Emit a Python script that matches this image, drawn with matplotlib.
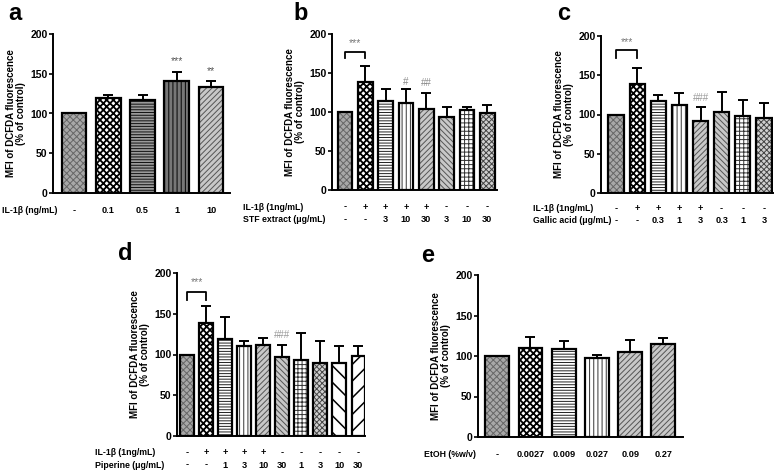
import matplotlib
matplotlib.use("Agg")
import matplotlib.pyplot as plt
from matplotlib.transforms import blended_transform_factory

plt.rcParams['font.family'] = ['Liberation Sans', 'DejaVu Sans']
plt.rcParams['hatch.linewidth'] = 0.7

# --- datos ---
a_labels = ['-', '0.1', '0.5', '1', '10']
a_vals = [100, 120, 117, 141, 133]
a_err = [0, 3, 6, 11, 8]

b_il = ['-', '+', '+', '+', '+', '-', '-', '-']
b_dose = ['-', '-', '3', '10', '30', '3', '10', '30']
b_vals = [100, 139, 114, 112, 104, 93, 103, 99]
b_err = [0, 20, 15, 17, 20, 14, 4, 10]

c_il = ['-', '+', '+', '+', '+', '-', '-', '-']
c_dose = ['-', '-', '0.3', '1', '3', '0.3', '1', '3']
c_vals = [100, 139, 117, 112, 92, 103, 98, 95]
c_err = [0, 20, 8, 16, 18, 26, 20, 20]

d_il = ['-', '+', '+', '+', '+', '-', '-', '-', '-', '-']
d_dose = ['-', '-', '1', '3', '10', '30', '1', '3', '10', '30']
d_vals = [100, 139, 119, 110, 112, 97, 93, 90, 89, 98]
d_err = [0, 20, 27, 7, 8, 15, 33, 26, 22, 13]

e_labels = ['-', '0.0027', '0.009', '0.027', '0.09', '0.27']
e_vals = [100, 110, 109, 98, 105, 115]
e_err = [0, 13, 10, 3, 15, 7]

# estilos de relleno: (color de fondo, trama, color de trama, grosor de trama)
ESTILOS = {
    'ctrl': ('#a8a8a8', 'xxxxx', '#666666', 0.7),
    'check': ('white', 'xxxxx', 'black', 1.3),
    'hline': ('white', '------', '#222222', 0.7),
    'hline_d': ('#9a9a9a', '------', '#111111', 0.7),
    'vline': ('white', '||||', '#333333', 0.7),
    'vline_d': ('#777777', '||||', '#111111', 0.8),
    'diag': ('#c8c8c8', '//////', '#555555', 0.7),
    'bdiag': ('#c8c8c8', '\\\\\\\\\\\\', '#555555', 0.7),
    'grid': ('white', '++++', '#333333', 0.7),
    'finex': ('#d0d0d0', 'xxxxxx', '#444444', 0.7),
    'sbdiag': ('white', '\\\\', 'black', 1.1),
    'sdiag': ('white', '//', 'black', 1.1),
}
NARROW = ['Liberation Sans Narrow', 'Liberation Sans', 'DejaVu Sans']

fig = plt.figure(figsize=(7.78, 4.75), dpi=100)
W, H = 778, 475


def eje(left, top, right, bottom):
    return fig.add_axes([left / W, 1 - bottom / H, (right - left) / W, (bottom - top) / H])


def barras(ax, vals, err, estilos, xlim, ancho=0.72):
    x = list(range(len(vals)))
    for i, v in enumerate(vals):
        fc, hatch, hc, hlw = ESTILOS[estilos[i]]
        with plt.rc_context({'hatch.linewidth': hlw}):
            ax.bar(x[i], v, width=ancho, color=fc, hatch=hatch, edgecolor=hc, linewidth=0, zorder=2)
    ax.bar(x, vals, width=ancho, fill=False, edgecolor='black', linewidth=1.6, zorder=3)
    ax.errorbar(x, vals, yerr=[[0] * len(vals), err], fmt='none', ecolor='black',
                elinewidth=1.4, capsize=3.5, capthick=1.4, zorder=4)
    ax.set_xlim(*xlim)
    ax.set_ylim(0, 200)
    ax.set_yticks([0, 50, 100, 150, 200])
    ax.set_xticks([])
    for s in ['top', 'right']:
        ax.spines[s].set_visible(False)
    for s in ['left', 'bottom']:
        ax.spines[s].set_linewidth(1.4)
    ax.tick_params(axis='y', length=3, width=1.2, labelsize=7.5, pad=1)
    for t in ax.get_yticklabels():
        t.set_fontweight('bold')
        t.set_family(NARROW)
    ax.set_ylabel('MFI of DCFDA fluorescence\n(% of control)', fontsize=7, fontweight='bold',
                  labelpad=3, linespacing=1.0)


def fila(ax, etiquetas, y, nombre, xnombre):
    tr = blended_transform_factory(ax.transData, ax.transAxes)
    for i, t in enumerate(etiquetas):
        ax.text(i, y, t, transform=tr, ha='center', va='center', fontsize=6.6, fontweight='bold',
                family=NARROW)
    tr2 = blended_transform_factory(fig.transFigure, ax.transAxes)
    ax.text(xnombre / W, y, nombre, transform=tr2, ha='left', va='center', fontsize=6.3,
            fontweight='bold', family=NARROW)


def corchete(ax, x0, x1, y0, y1, texto, ytexto):
    ax.plot([x0, x0, x1, x1], [y0, y1, y1, y0], color='black', lw=1.3, zorder=5)
    ax.text((x0 + x1) / 2, ytexto, texto, ha='center', va='center', fontsize=7.5, color='#777777')


# a
ax = eje(53, 34, 230, 193)
barras(ax, a_vals, a_err, ['ctrl', 'check', 'hline_d', 'vline_d', 'diag'], (-0.61, 4.55))
fila(ax, a_labels, -0.113, 'IL-1β (ng/mL)', 2)
ax.text(3, 166, '***', ha='center', va='center', fontsize=7.5, color='#555555')
ax.text(4, 153, '**', ha='center', va='center', fontsize=7.5, color='#555555')

# b
ax = eje(332, 34, 497, 190)
barras(ax, b_vals, b_err, ['ctrl', 'check', 'hline', 'vline', 'diag', 'bdiag', 'grid', 'finex'],
       (-0.64, 7.48))
fila(ax, b_il, -0.109, 'IL-1β (1ng/mL)', 243)
fila(ax, b_dose, -0.192, 'STF extract (μg/mL)', 243)
corchete(ax, 0, 1, 169, 177, '***', 189)
ax.text(3, 139, '#', ha='center', va='center', fontsize=7, color='#888888')
ax.text(4, 137, '##', ha='center', va='center', fontsize=7, color='#888888')

# c
ax = eje(601, 36, 773, 193)
barras(ax, c_vals, c_err, ['ctrl', 'check', 'hline', 'vline', 'diag', 'bdiag', 'grid', 'finex'],
       (-0.71, 7.43))
fila(ax, c_il, -0.10, 'IL-1β (1ng/mL)', 533)
fila(ax, c_dose, -0.178, 'Gallic acid (μg/mL)', 533)
corchete(ax, 0, 1, 172, 182, '***', 192)
ax.text(4, 121, '###', ha='center', va='center', fontsize=7, color='#999999')

# d
ax = eje(177, 273, 365, 436)
barras(ax, d_vals, d_err, ['ctrl', 'check', 'hline', 'vline', 'diag', 'bdiag', 'grid', 'finex',
                           'sbdiag', 'sdiag'], (-0.54, 9.35))
fila(ax, d_il, -0.104, 'IL-1β (1ng/mL)', 95)
fila(ax, d_dose, -0.178, 'Piperine (μg/mL)', 95)
corchete(ax, 0, 1, 167, 177, '***', 189)
ax.text(5, 124, '###', ha='center', va='center', fontsize=7, color='#999999')

# e
ax = eje(478, 275, 683, 437)
barras(ax, e_vals, e_err, ['ctrl', 'check', 'hline', 'vline', 'diag', 'diag'], (-0.58, 5.59))
fila(ax, e_labels, -0.111, 'EtOH (%w/v)', 424)

# letras de panel
for letra, x, y in [('a', 8, 14), ('b', 293, 14), ('c', 557, 14), ('d', 118, 254), ('e', 421, 256)]:
    fig.text(x / W, 1 - y / H, letra, fontsize=17, fontweight='bold', ha='left', va='center')

fig.savefig('out.png', dpi=100)
